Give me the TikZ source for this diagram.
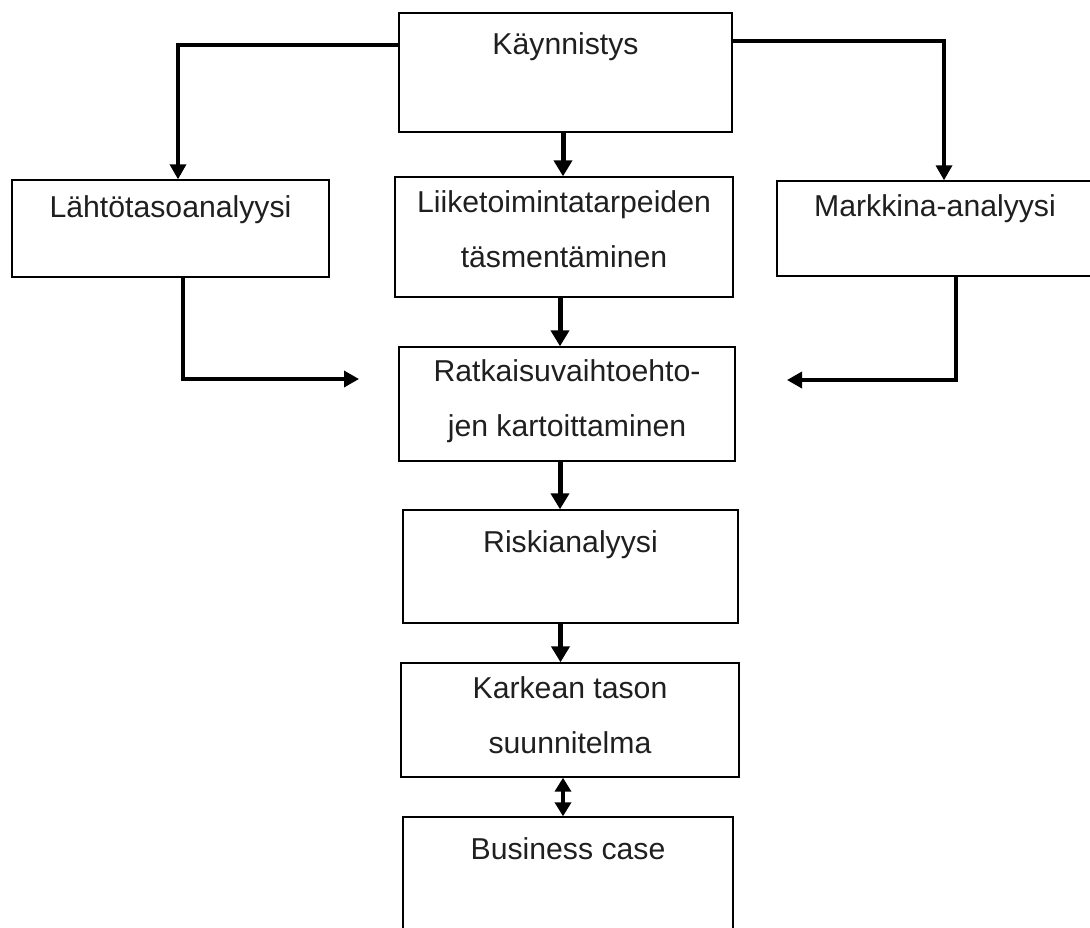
\documentclass[tikz,border=0pt]{standalone}
\usepackage{fontspec}
\setmainfont{Liberation Sans}
\usetikzlibrary{arrows.meta,calc}
\begin{document}
\begin{tikzpicture}[x=1pt,y=-1pt,
  box/.style={draw, line width=1.4pt, inner sep=0pt},
  txt/.style={anchor=base, align=center, inner sep=0pt, text=black!88, font=\fontsize{30.2}{55}\selectfont},
  side/.style={draw, line width=3.4pt, -{Triangle[width=16pt,length=15pt]}},
  mid/.style={draw, line width=5pt, -{Triangle[width=18pt,length=16pt]}},
  both/.style={draw, line width=4pt, {Triangle[width=16pt,length=14pt]}-{Triangle[width=16pt,length=14pt]}}]
\clip (0,0) rectangle (1090,927);
% boxes
\node[box, minimum width=333pt, minimum height=119pt] (kay) at (565.5,72.5) {};
\node[box, minimum width=317pt, minimum height=97pt] (lah) at (170.5,228.5) {};
\node[box, minimum width=338pt, minimum height=120pt] (lii) at (564,237) {};
\node[box, minimum width=316pt, minimum height=95pt] (mar) at (935,228.5) {};
\node[box, minimum width=336pt, minimum height=114pt] (rat) at (567,404) {};
\node[box, minimum width=335pt, minimum height=113pt] (ris) at (570.5,566.5) {};
\node[box, minimum width=338pt, minimum height=114pt] (kar) at (570,720) {};
\node[box, minimum width=330pt, minimum height=150pt] (bus) at (568,892) {};
% texts (base anchor = baseline of the last line)
\node[txt] (tkay) at ($(kay.north)+(0,42)$) {Käynnistys};
\node[txt] (tlah) at ($(lah.north)+(0,38)$) {Lähtötasoanalyysi};
\node[txt] (tlii) at ($(lii.north)+(0,91)$) {Liiketoimintatarpeiden\\täsmentäminen};
\node[txt] (tmar) at ($(mar.north)+(0,36)$) {Markkina-analyysi};
\node[txt] (trat) at ($(rat.north)+(0,90)$) {Ratkaisuvaihtoehto-\\jen kartoittaminen};
\node[txt] (tris) at ($(ris.north)+(0,43)$) {Riskianalyysi};
\node[txt] (tkar) at ($(kar.north)+(0,91)$) {Karkean tason\\suunnitelma};
\node[txt] (tbus) at ($(bus.north)+(0,43)$) {Business case};
% connectors
\coordinate (kl) at (178,45);
\coordinate (kr) at (944,41);
\coordinate (ld) at (183,0);
\coordinate (lin) at (359,379);
\coordinate (rd) at (956,0);
\coordinate (rin) at (787,380);
\draw[side] (kay.west |- kl) -| (lah.north -| kl);
\draw[side] (kay.east |- kr) -| (mar.north -| kr);
\draw[mid] ([xshift=-1pt]kay.south -| lii.north) -- ([xshift=-1pt]lii.north);
\draw[side] (lah.south -| ld) |- (lin);
\draw[side] (mar.south -| rd) |- (rin);
\draw[mid] ([xshift=-4pt]lii.south) -- ([xshift=-4pt]lii.south |- rat.north);
\draw[mid] ([xshift=-7pt]rat.south) -- ([xshift=-7pt]rat.south |- ris.north);
\draw[mid] ([xshift=-10pt]ris.south) -- ([xshift=-10pt]ris.south |- kar.north);
\draw[both] ([xshift=-7pt]kar.south) -- ([xshift=-7pt]kar.south |- bus.north);
\end{tikzpicture}
\end{document}
